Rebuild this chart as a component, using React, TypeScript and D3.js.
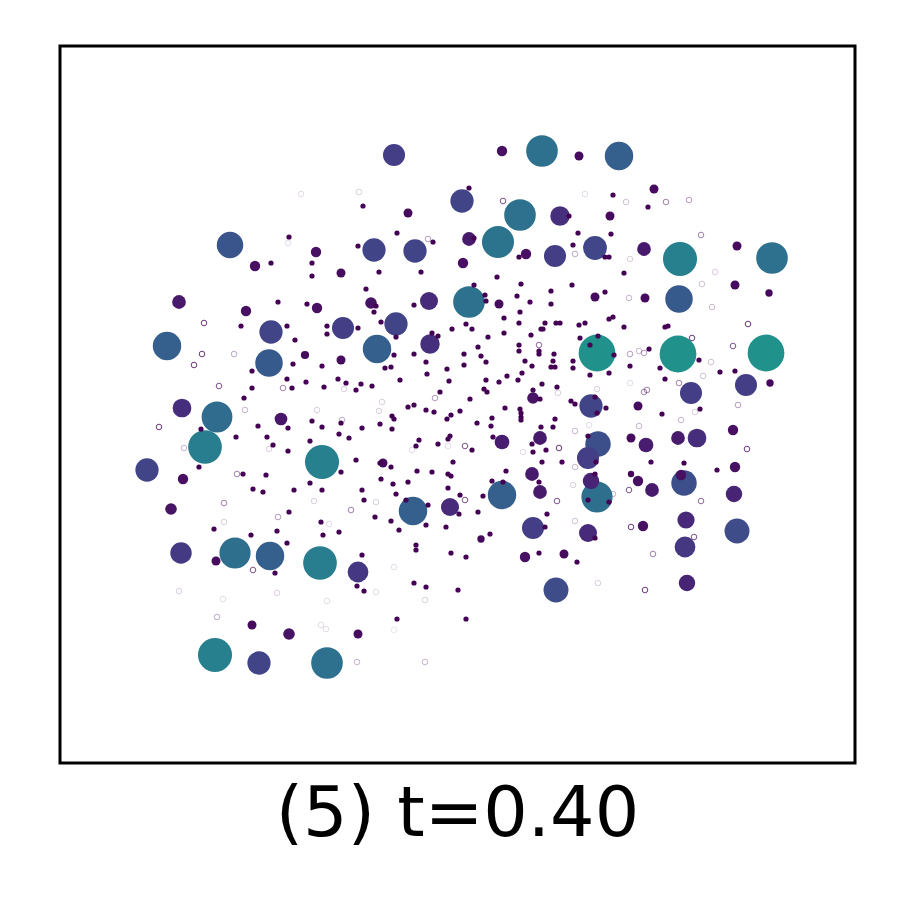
import React from "react";
import * as d3 from "d3";

// [x, y, value] — coloured bubbles, size and colour both follow value
const bubbles: [number, number, number][] = [
  [53.7, 41.0, 0.5], [61.8, 40.9, 0.5], [70.6, 41.0, 0.5],
  [62.0, 50.4, 0.43], [15.5, 10.8, 0.43], [26.2, 30.1, 0.43], [14.5, 31.6, 0.42], [26.0, 20.0, 0.42],
  [48.2, 61.2, 0.37], [46.0, 54.8, 0.37], [43.8, 52.1, 0.38], [40.9, 46.1, 0.37], [71.2, 50.5, 0.37],
  [17.5, 21.0, 0.36], [26.7, 10.0, 0.37], [53.7, 26.6, 0.36], [15.7, 34.6, 0.35],
  [55.9, 60.7, 0.3], [17.0, 51.8, 0.26], [31.7, 41.4, 0.3], [10.7, 41.7, 0.3], [20.9, 40.0, 0.28],
  [61.9, 46.4, 0.28], [21.0, 20.7, 0.3], [35.3, 25.2, 0.3], [44.2, 26.8, 0.3],
  [53.8, 31.9, 0.24], [62.4, 28.0, 0.24], [49.6, 17.3, 0.23], [67.7, 23.2, 0.23],
  [33.4, 60.8, 0.18], [40.2, 56.2, 0.2], [31.4, 51.3, 0.2], [35.5, 51.2, 0.2], [33.6, 43.9, 0.2],
  [49.5, 50.7, 0.18], [53.5, 51.5, 0.21], [21.1, 43.1, 0.2], [8.7, 29.3, 0.2], [19.9, 10.0, 0.2],
  [63.1, 37.0, 0.18], [68.6, 37.8, 0.18], [53.1, 35.7, 0.2], [47.3, 23.5, 0.18], [62.5, 21.6, 0.16],
  [12.1, 21.0, 0.17], [29.8, 19.1, 0.16], [28.3, 43.5, 0.18], [52.8, 30.5, 0.18],
  [50.0, 54.7, 0.14], [36.9, 46.2, 0.12], [37.0, 41.9, 0.14], [12.2, 35.5, 0.13], [63.7, 32.5, 0.13],
  [53.1, 28.2, 0.1], [67.4, 26.9, 0.1], [62.6, 24.3, 0.11], [52.8, 23.0, 0.12], [62.7, 18.0, 0.1],
  [58.6, 31.8, 0.08], [59.2, 27.3, 0.07], [39.0, 25.6, 0.12], [58.4, 51.4, 0.07],
  [19.5, 49.7, 0.04], [25.6, 51.1, 0.04], [11.9, 46.1, 0.07], [18.6, 45.2, 0.04], [25.7, 45.5, 0.04],
  [44.2, 61.2, 0.04], [51.9, 60.7, 0.03], [34.8, 55.0, 0.03], [40.9, 52.4, 0.07], [46.6, 50.9, 0.04],
  [40.3, 50.0, 0.04], [28.1, 49.0, 0.03], [31.1, 46.0, 0.05], [43.9, 45.9, 0.03], [59.4, 57.4, 0.03],
  [55.0, 54.7, 0.03], [67.7, 51.7, 0.03], [67.5, 47.8, 0.03], [70.9, 47.0, 0.02], [58.5, 46.5, 0.03],
  [53.5, 46.6, 0.03], [57.8, 35.7, 0.03], [67.3, 33.3, 0.04], [57.1, 32.5, 0.03], [61.8, 32.5, 0.07],
  [67.5, 29.6, 0.04], [57.8, 28.2, 0.04], [62.1, 28.8, 0.04], [58.3, 23.7, 0.04], [22.1, 34.4, 0.06],
  [12.3, 28.4, 0.04], [11.1, 25.4, 0.05], [15.6, 20.2, 0.03], [19.2, 13.8, 0.03], [22.9, 12.9, 0.05],
  [29.8, 12.9, 0.03], [46.5, 20.6, 0.04], [50.4, 20.9, 0.03], [44.2, 32.1, 0.08], [48.0, 32.5, 0.07],
  [47.3, 36.5, 0.05], [47.2, 28.9, 0.07], [48.0, 27.1, 0.07], [42.1, 22.4, 0.02], [28.1, 40.3, 0.03],
  [32.3, 30.0, 0.03], [57.1, 28.9, 0.015], [71.0, 38.0, 0.02], [24.5, 40.8, 0.025],
];

// [x, y] — the many tiny dark points
const dotValue = 0.01;
const dots: [number, number][] = [
  [21.1, 50.0], [22.9, 52.6], [25.2, 50.0], [25.2, 48.7], [21.8, 46.1], [24.7, 45.9], [18.1, 43.7],
  [22.7, 43.7], [23.5, 42.3], [26.7, 43.7], [26.7, 42.9],
  [40.9, 57.5], [30.3, 55.7], [33.7, 53.0], [37.3, 52.1], [41.4, 52.5], [45.9, 50.6], [29.8, 51.7],
  [51.8, 53.0], [51.3, 51.8], [50.9, 54.7], [31.9, 49.1], [36.1, 49.1], [43.7, 48.6], [46.1, 47.9],
  [41.4, 47.8], [51.2, 47.8], [49.1, 47.2], [42.5, 46.8], [45.7, 46.7], [42.6, 46.2], [47.0, 46.1],
  [49.1, 45.9], [30.6, 47.4], [31.6, 45.7], [31.4, 45.1], [35.4, 45.8], [29.8, 43.5], [32.1, 44.1],
  [33.6, 42.6], [37.2, 43.0], [37.8, 42.7], [39.2, 43.4], [40.6, 43.9], [41.2, 43.4], [42.8, 42.6],
  [44.4, 44.5], [44.4, 43.0], [46.0, 45.1], [45.9, 44.0], [47.1, 42.8], [48.1, 43.4], [48.3, 43.4],
  [48.5, 44.0], [49.6, 44.0], [50.0, 44.0], [51.9, 43.8], [52.5, 44.0], [52.0, 42.5], [45.9, 41.8],
  [41.8, 41.6],
  [55.3, 56.8], [58.8, 55.6], [55.1, 52.9], [56.4, 49.0], [54.5, 47.1], [54.9, 44.4], [55.3, 44.6],
  [56.4, 43.6], [60.5, 43.6], [60.8, 43.7], [53.8, 42.7], [53.0, 41.8], [54.5, 50.6], [54.9, 50.6],
  [60.2, 34.9], [64.0, 35.4], [53.5, 36.6], [54.6, 35.5], [53.7, 35.0], [59.1, 30.1], [62.4, 30.0],
  [65.7, 29.3], [53.5, 22.5], [52.8, 26.3], [54.9, 26.1], [53.5, 28.9], [52.8, 32.7], [53.6, 30.1],
  [55.4, 40.8], [58.9, 41.4], [57.0, 39.7], [60.0, 39.5], [53.0, 38.8], [54.9, 39.0], [60.5, 38.4],
  [63.9, 40.3], [66.0, 39.1], [67.5, 39.2],
  [47.9, 21.0], [51.7, 20.1], [40.6, 20.6], [39.1, 21.0], [39.8, 17.3], [40.6, 14.4],
  [21.5, 19.0], [30.2, 20.8], [29.7, 17.7], [30.4, 17.2], [35.4, 18.0], [36.6, 17.6], [33.7, 14.4],
  [35.6, 21.3],
  [19.2, 39.2], [23.3, 39.9], [26.2, 39.7], [22.7, 38.4], [24.6, 38.1], [19.2, 37.5], [23.2, 37.5],
  [26.4, 37.6], [18.4, 36.5], [25.2, 34.2], [26.2, 33.6], [19.8, 33.7], [22.8, 33.5], [20.7, 32.6],
  [21.3, 31.8], [17.6, 32.6], [14.1, 33.4], [22.8, 31.2], [25.0, 32.2], [13.9, 29.6], [18.3, 28.9],
  [20.6, 28.8], [19.3, 27.4], [20.3, 27.1], [23.4, 27.3], [25.0, 28.0], [26.2, 27.3], [22.9, 25.1],
  [15.4, 23.4], [19.1, 22.8], [21.7, 23.2], [22.7, 22.0], [26.1, 24.1], [26.3, 22.8],
  [33.4, 40.8], [35.4, 40.9], [32.5, 39.5], [33.1, 39.6], [36.6, 40.1], [40.4, 40.9], [42.1, 40.7],
  [42.6, 40.1], [40.4, 39.8], [38.7, 39.4], [36.7, 38.9], [34.0, 38.3], [38.9, 38.2], [27.8, 38.4],
  [28.6, 38.0], [30.1, 37.9], [31.2, 37.7], [29.6, 37.3], [38.0, 37.1], [41.0, 36.4], [42.6, 38.3],
  [42.4, 37.4], [42.7, 37.1], [43.9, 38.1], [44.7, 38.7], [45.8, 38.3], [46.2, 39.0], [47.2, 39.7],
  [46.5, 40.2], [45.9, 41.2], [47.9, 41.2], [47.9, 40.9], [49.4, 40.9], [49.1, 39.6], [49.5, 39.6],
  [51.3, 40.2], [51.3, 39.5], [49.3, 40.2], [48.2, 37.9], [49.7, 37.6], [47.3, 37.3], [48.0, 36.4],
  [46.1, 35.0], [46.0, 35.4], [46.1, 34.6], [46.1, 34.3], [44.5, 35.5], [43.2, 34.5], [41.7, 34.0],
  [43.1, 33.7], [40.0, 35.2], [39.1, 34.8], [38.7, 34.4], [37.4, 35.1], [36.6, 35.3], [35.4, 35.8],
  [34.8, 35.6], [33.2, 34.7], [33.4, 34.4], [28.1, 34.0], [30.2, 33.5], [32.0, 33.9], [33.2, 33.4],
  [27.9, 32.9], [28.9, 32.5], [35.9, 32.3], [35.6, 31.7], [37.8, 31.9], [38.8, 32.4], [39.0, 32.7],
  [41.2, 31.3], [43.3, 32.6], [47.2, 31.9], [47.3, 31.1], [48.6, 31.3], [49.3, 33.6], [49.5, 34.4],
  [48.1, 33.6], [51.5, 35.9], [51.1, 36.2], [29.6, 30.3], [33.1, 29.6], [32.0, 30.0], [35.7, 29.2],
  [37.2, 29.1], [38.8, 28.9], [39.1, 28.7], [39.3, 30.1], [44.6, 29.2], [43.2, 28.2], [44.3, 28.1],
  [47.9, 28.1], [50.2, 30.1], [48.2, 30.1], [28.1, 29.1], [32.1, 28.4], [33.3, 27.9], [34.8, 28.1],
  [33.6, 26.9], [30.2, 27.3], [30.4, 26.3], [34.6, 26.3], [36.8, 25.8], [38.8, 27.5], [40.0, 26.8],
  [42.3, 26.7], [39.9, 24.9], [41.8, 25.1], [33.1, 24.2], [31.5, 24.6], [33.9, 23.3], [36.6, 23.8],
  [38.6, 23.6], [43.0, 22.9], [48.5, 23.6], [48.7, 24.9], [27.9, 23.1], [35.6, 21.8],
];

// [x, y, opacity] — hollow faint points
const rings: [number, number, number][] = [
  [24.1, 56.9, 0.15], [22.8, 52.0, 0.15], [14.4, 44.0, 0.8],
  [44.3, 56.2, 0.7], [29.9, 57.1, 0.2], [36.8, 52.4, 0.4], [51.5, 50.9, 0.35],
  [57.0, 50.4, 0.2], [65.5, 49.1, 0.2], [64.2, 47.9, 0.25], [56.9, 46.5, 0.3], [65.2, 45.6, 0.3],
  [68.8, 43.9, 0.8], [63.2, 42.5, 0.8], [67.3, 41.7, 0.7], [56.6, 56.1, 0.25], [60.6, 56.1, 0.5],
  [62.9, 56.3, 0.4], [52.5, 56.9, 0.15], [64.1, 52.8, 0.5],
  [57.1, 23.6, 0.8], [63.4, 22.6, 0.7], [64.1, 26.2, 0.6], [56.9, 27.3, 0.7], [68.7, 31.4, 0.8],
  [64.0, 32.6, 0.7], [57.0, 40.9, 0.4], [57.9, 41.2, 0.3], [58.4, 41.0, 0.4], [65.1, 40.1, 0.25],
  [64.3, 38.7, 0.25], [61.9, 38.0, 0.5], [67.8, 35.8, 0.4], [63.5, 35.1, 0.2], [62.1, 34.3, 0.3],
  [57.9, 33.7, 0.3], [58.4, 37.1, 0.5], [58.7, 37.3, 0.5], [59.3, 20.9, 0.5], [53.7, 37.4, 0.2],
  [57.0, 38.0, 0.15], [52.9, 33.8, 0.15], [55.3, 26.9, 0.3],
  [58.5, 17.3, 0.8], [53.8, 18.0, 0.2],
  [19.3, 19.3, 0.7], [11.9, 17.2, 0.2], [16.3, 16.4, 0.15], [21.7, 17.0, 0.2], [26.7, 16.2, 0.15],
  [31.6, 17.1, 0.15], [33.4, 19.6, 0.15], [36.5, 16.3, 0.2], [26.1, 13.8, 0.15], [26.6, 13.4, 0.15],
  [33.4, 13.3, 0.1], [15.7, 14.6, 0.35], [29.7, 10.1, 0.3], [36.5, 10.1, 0.3],
  [14.2, 40.9, 0.8], [13.4, 39.8, 0.8], [15.9, 37.7, 0.7], [9.9, 33.6, 0.8], [17.4, 40.9, 0.35],
  [18.5, 35.3, 0.3], [12.4, 31.5, 0.3], [20.9, 31.4, 0.2], [17.7, 28.9, 0.5], [16.4, 26.0, 0.5],
  [21.8, 24.6, 0.4], [16.4, 24.1, 0.2], [25.4, 26.2, 0.2], [25.7, 35.3, 0.2], [22.3, 37.5, 0.5],
  [40.5, 31.7, 0.7], [40.5, 26.3, 0.7], [49.7, 26.2, 0.7], [49.9, 31.5, 0.8], [47.9, 41.8, 0.6],
  [29.1, 25.3, 0.5], [28.4, 37.4, 0.2], [32.2, 36.1, 0.2], [31.9, 35.2, 0.2], [28.2, 34.3, 0.35],
  [37.5, 36.5, 0.4], [38.8, 31.7, 0.15], [31.6, 26.1, 0.2], [46.3, 31.1, 0.15], [51.5, 33.2, 0.3],
  [51.5, 29.6, 0.3], [51.3, 27.8, 0.2], [51.5, 24.2, 0.25], [26.9, 23.9, 0.15], [35.2, 31.3, 0.15],
  [49.8, 37.0, 0.2],
];

const title = "(5) t=0.40";

export default function App() {
  const W = 900;
  const H = 900;
  const margin = { top: 46, right: 45, bottom: 137, left: 60 };
  const iw = W - margin.left - margin.right;
  const ih = H - margin.top - margin.bottom;

  const x = d3.scaleLinear().domain([0, 79.5]).range([0, iw]);
  const y = d3.scaleLinear().domain([0, 71.7]).range([ih, 0]);
  const r = d3.scaleSqrt().domain([0, 1]).range([0, 26]);
  const color = (v: number) => d3.interpolateViridis(v);

  // big ones first so smaller ones stay visible on top
  const sorted = [...bubbles].sort((a, b) => b[2] - a[2]);

  return (
    <svg
      width={W}
      height={H}
      style={{ position: "absolute", left: 0, top: 0, background: "#fff" }}
    >
      <g transform={`translate(${margin.left},${margin.top})`}>
        {rings.map((d, i) => (
          <circle
            key={"r" + i}
            cx={x(d[0])}
            cy={y(d[1])}
            r={2.8}
            fill="none"
            stroke={color(0.02)}
            strokeOpacity={d[2]}
            strokeWidth={1}
          />
        ))}
        {sorted.map((d, i) => (
          <circle
            key={"b" + i}
            cx={x(d[0])}
            cy={y(d[1])}
            r={r(d[2])}
            fill={color(d[2])}
          />
        ))}
        {dots.map((d, i) => (
          <circle
            key={"d" + i}
            cx={x(d[0])}
            cy={y(d[1])}
            r={r(dotValue)}
            fill={color(0)}
          />
        ))}
        <rect
          x={0}
          y={0}
          width={iw}
          height={ih}
          fill="none"
          stroke="#000"
          strokeWidth={3}
        />
      </g>
      <text
        x={margin.left + iw / 2}
        y={836}
        textAnchor="middle"
        fontFamily="DejaVu Sans"
        fontSize={70}
        fill="#000"
      >
        {title}
      </text>
    </svg>
  );
}
